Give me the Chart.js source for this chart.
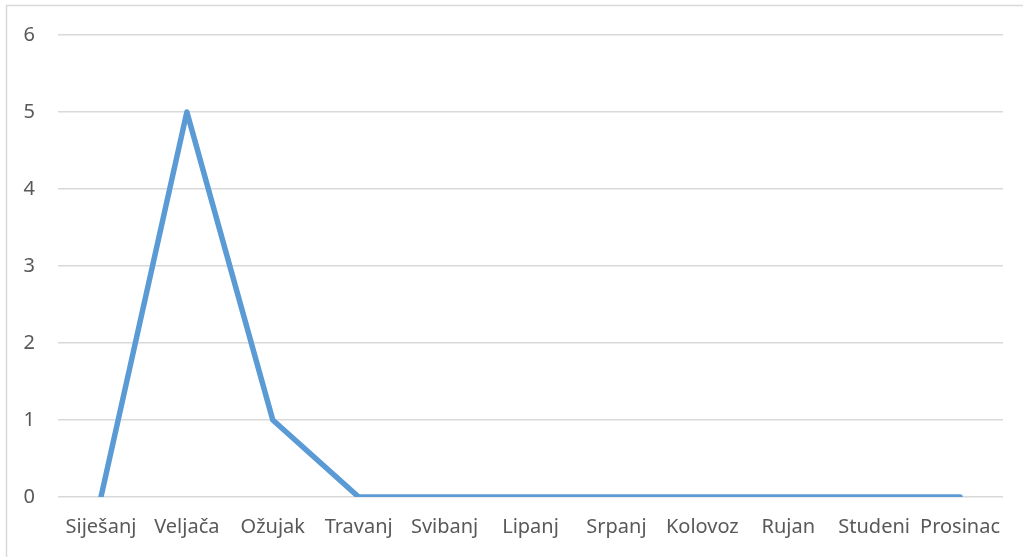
<!DOCTYPE html>
<html>
<head>
<meta charset="utf-8">
<script src="https://cdn.jsdelivr.net/npm/chart.js@4/dist/chart.umd.min.js"></script>
<style>
html,body{margin:0;padding:0;background:#fff;}
#wrap{width:1023px;height:557px;position:relative;}
</style>
</head>
<body>
<div id="wrap"><canvas id="c" width="1023" height="557"></canvas></div>
<script>
const months = ["Siješanj","Veljača","Ožujak","Travanj","Svibanj","Lipanj","Srpanj","Kolovoz","Rujan","Studeni","Prosinac"];
const values = [0,5,1,0,0,0,0,0,0,0,0];
const yTicks = [0,1,2,3,4,5,6];

const borderPlugin = {
  id:'outerBorder',
  beforeDraw(chart){
    const ctx = chart.ctx;
    ctx.save();
    ctx.fillStyle='#fff';
    ctx.fillRect(0,0,chart.width,chart.height);
    ctx.strokeStyle='#d9d9d9';
    ctx.lineWidth=1.5;
    ctx.strokeRect(6.5,5.5,1030,600);
    ctx.restore();
  }
};

new Chart(document.getElementById('c'),{
  type:'line',
  data:{labels:months,datasets:[{data:values,borderColor:'#5b9bd5',borderWidth:5.5,pointRadius:0,tension:0,borderCapStyle:'round',borderJoinStyle:'round',fill:false}]},
  options:{
    responsive:false,animation:false,
    layout:{padding:{left:0,top:35,right:20,bottom:0}},
    plugins:{legend:{display:false},tooltip:{enabled:false}},
    scales:{
      x:{offset:true,grid:{display:false,drawTicks:false},border:{display:false},
        ticks:{color:'#595959',font:{family:'"Noto Sans"',size:20},padding:18,maxRotation:0,autoSkip:false},
        afterFit(s){s.height=60;}},
      y:{min:0,max:6,grid:{color:'#d9d9d9',lineWidth:1.5,drawTicks:false},border:{display:false},
        afterBuildTicks(s){s.ticks=yTicks.map(v=>({value:v}));},
        ticks:{color:'#595959',font:{family:'"Noto Sans"',size:20},padding:23},
        afterFit(s){s.width=58;}}
    }
  },
  plugins:[borderPlugin]
});
</script>
</body>
</html>
